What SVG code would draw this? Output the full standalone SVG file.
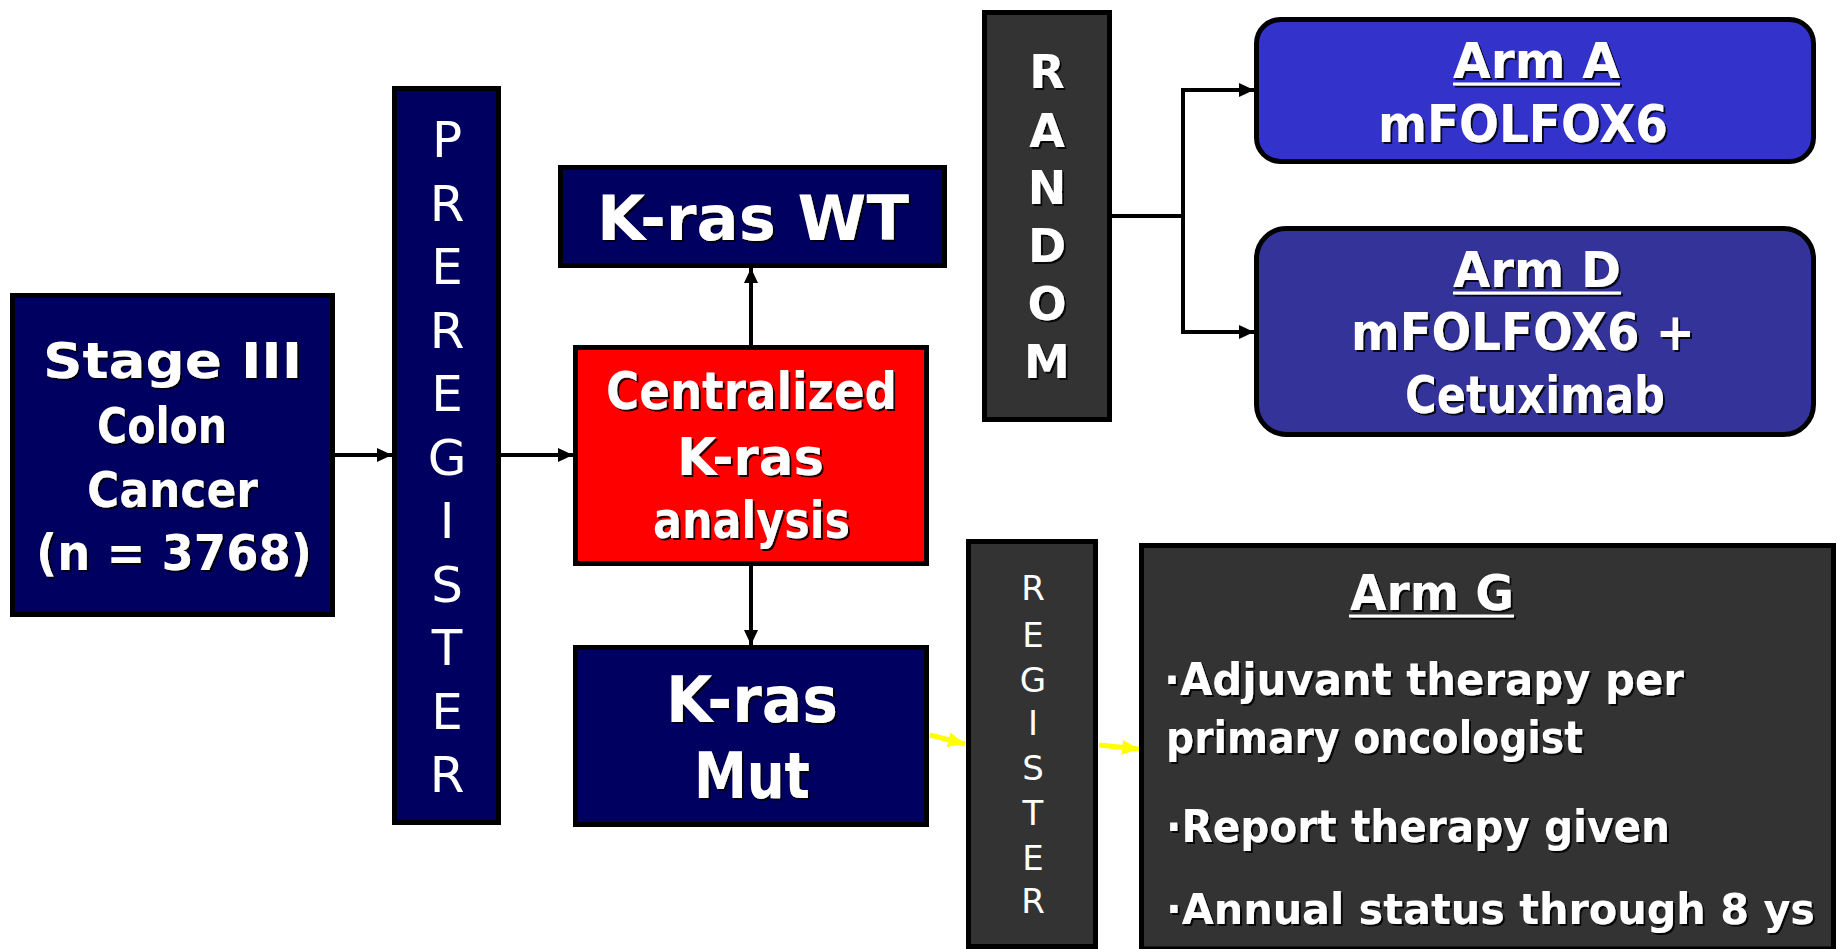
<svg xmlns="http://www.w3.org/2000/svg" width="1838" height="949" viewBox="0 0 1838 949">
<style>
.box{stroke:#000;stroke-width:5}
.navy{fill:#000060}
.red{fill:#ff0000}
.grey{fill:#333333}
.armA{fill:#3333cc}
.armD{fill:#333399}
.t{font-family:"DejaVu Sans",sans-serif;fill:#fff}
.b{font-weight:bold}
.ul{stroke:#fff;stroke-width:3}
.conn{stroke:#000;stroke-width:4;fill:none}
.yel{stroke:#ffff00;stroke-width:5;fill:none}
</style>
<defs>
<filter id="sh" x="-10%" y="-10%" width="130%" height="130%">
<feDropShadow dx="2" dy="2" stdDeviation="0.6" flood-color="#000" flood-opacity="0.85"/>
</filter>
<marker id="ah" markerUnits="userSpaceOnUse" markerWidth="15" markerHeight="14" refX="15" refY="7" orient="auto">
<path d="M0,0 L15,7 L0,14 z" fill="#000"/>
</marker>
<marker id="ay" markerUnits="userSpaceOnUse" markerWidth="17" markerHeight="15" refX="17" refY="7.5" orient="auto">
<path d="M0,0 L17,7.5 L0,15 z" fill="#ffff00"/>
</marker>
</defs>
<rect width="1838" height="949" fill="#fff"/>

<g id="connectors">
<line class="conn" x1="335" y1="455" x2="392" y2="455" marker-end="url(#ah)"/>
<line class="conn" x1="501" y1="455" x2="573" y2="455" marker-end="url(#ah)"/>
<line class="conn" x1="751" y1="345" x2="751" y2="268" marker-end="url(#ah)"/>
<line class="conn" x1="751" y1="566" x2="751" y2="645" marker-end="url(#ah)"/>
<polyline class="conn" points="1112,216 1183,216"/>
<polyline class="conn" points="1254,90 1183,90 1183,332 1254,332"/>
<line class="conn" x1="1190" y1="90" x2="1254" y2="90" marker-end="url(#ah)"/>
<line class="conn" x1="1190" y1="332" x2="1254" y2="332" marker-end="url(#ah)"/>
<line class="yel" x1="930" y1="735" x2="965" y2="744" marker-end="url(#ay)"/>
<line class="yel" x1="1099" y1="745" x2="1139" y2="749" marker-end="url(#ay)"/>
<polygon points="946,200 930,209 946,217" fill="#000"/>
</g>

<g id="stage">
<rect class="box navy" x="12.5" y="295.5" width="320" height="319"/>
<g class="t b" font-size="50" filter="url(#sh)">
<text x="43" y="378" textLength="259" lengthAdjust="spacingAndGlyphs">Stage III</text>
<text x="97" y="443" textLength="130" lengthAdjust="spacingAndGlyphs">Colon</text>
<text x="87" y="507" textLength="171" lengthAdjust="spacingAndGlyphs">Cancer</text>
<text x="36" y="570" textLength="276" lengthAdjust="spacingAndGlyphs">(n = 3768)</text>
</g>
</g>

<g id="preregister">
<rect class="box navy" x="394.5" y="88.5" width="104" height="734"/>
<g class="t" font-size="50" text-anchor="middle">
<text x="447" y="157">P</text>
<text x="447" y="221">R</text>
<text x="447" y="284">E</text>
<text x="447" y="348">R</text>
<text x="447" y="411">E</text>
<text x="447" y="475">G</text>
<text x="447" y="538">I</text>
<text x="447" y="602">S</text>
<text x="447" y="665">T</text>
<text x="447" y="729">E</text>
<text x="447" y="792">R</text>
</g>
</g>

<g id="kras-wt">
<rect class="box navy" x="560.5" y="167.5" width="384" height="98"/>
<text class="t b" font-size="62" x="597" y="240" textLength="312" lengthAdjust="spacingAndGlyphs" filter="url(#sh)">K-ras WT</text>
</g>

<g id="centralized">
<rect class="box red" x="575.5" y="347.5" width="351" height="216"/>
<g class="t b" font-size="52" filter="url(#sh)">
<text x="606" y="409" textLength="291" lengthAdjust="spacingAndGlyphs">Centralized</text>
<text x="677" y="475" textLength="147" lengthAdjust="spacingAndGlyphs">K-ras</text>
<text x="653" y="538" textLength="197" lengthAdjust="spacingAndGlyphs">analysis</text>
</g>
</g>

<g id="kras-mut">
<rect class="box navy" x="575.5" y="647.5" width="351" height="177"/>
<g class="t b" font-size="64" filter="url(#sh)">
<text x="666" y="722" textLength="172" lengthAdjust="spacingAndGlyphs">K-ras</text>
<text x="694" y="798" textLength="116" lengthAdjust="spacingAndGlyphs">Mut</text>
</g>
</g>

<g id="random">
<rect class="box grey" x="984.5" y="12.5" width="125" height="407"/>
<g class="t b" font-size="46" text-anchor="middle" filter="url(#sh)">
<text x="1047" y="88">R</text>
<text x="1047" y="147">A</text>
<text x="1047" y="204">N</text>
<text x="1047" y="262">D</text>
<text x="1047" y="320">O</text>
<text x="1047" y="378">M</text>
</g>
</g>

<g id="arm-a">
<rect class="box armA" x="1256.5" y="19.5" width="557" height="142" rx="24" ry="24"/>
<g filter="url(#sh)">
<text class="t b" font-size="50" x="1453" y="78" textLength="167" lengthAdjust="spacingAndGlyphs">Arm A</text>
<line class="ul" x1="1453" y1="84" x2="1620" y2="84"/>
<text class="t b" font-size="52" x="1378" y="142" textLength="290" lengthAdjust="spacingAndGlyphs">mFOLFOX6</text>
</g>
</g>

<g id="arm-d">
<rect class="box armD" x="1256.5" y="228.5" width="557" height="206" rx="30" ry="30"/>
<g filter="url(#sh)">
<text class="t b" font-size="50" x="1453" y="287" textLength="168" lengthAdjust="spacingAndGlyphs">Arm D</text>
<line class="ul" x1="1453" y1="293" x2="1621" y2="293"/>
<text class="t b" font-size="52" x="1351" y="350" textLength="344" lengthAdjust="spacingAndGlyphs">mFOLFOX6 +</text>
<text class="t b" font-size="52" x="1405" y="413" textLength="260" lengthAdjust="spacingAndGlyphs">Cetuximab</text>
</g>
</g>

<g id="register">
<rect class="box grey" x="968.5" y="541.5" width="127" height="405"/>
<g class="t" font-size="34" text-anchor="middle">
<text x="1033" y="600">R</text>
<text x="1033" y="647">E</text>
<text x="1033" y="692">G</text>
<text x="1033" y="735">I</text>
<text x="1033" y="780">S</text>
<text x="1033" y="825">T</text>
<text x="1033" y="870">E</text>
<text x="1033" y="913">R</text>
</g>
</g>

<g id="arm-g">
<rect class="box grey" x="1141.5" y="545.5" width="692" height="403.5"/>
<g class="t b" filter="url(#sh)">
<text font-size="50" x="1350" y="610" textLength="164" lengthAdjust="spacingAndGlyphs">Arm G</text>
<line class="ul" x1="1349" y1="616" x2="1514" y2="616"/>
<text font-size="44" x="1164" y="695" textLength="520" lengthAdjust="spacingAndGlyphs">·Adjuvant therapy per</text>
<text font-size="44" x="1166" y="753" textLength="417" lengthAdjust="spacingAndGlyphs">primary oncologist</text>
<text font-size="44" x="1166" y="842" textLength="504" lengthAdjust="spacingAndGlyphs">·Report therapy given</text>
<text font-size="42" x="1166" y="924" textLength="649" lengthAdjust="spacingAndGlyphs">·Annual status through 8 ys</text>
</g>
</g>
</svg>
